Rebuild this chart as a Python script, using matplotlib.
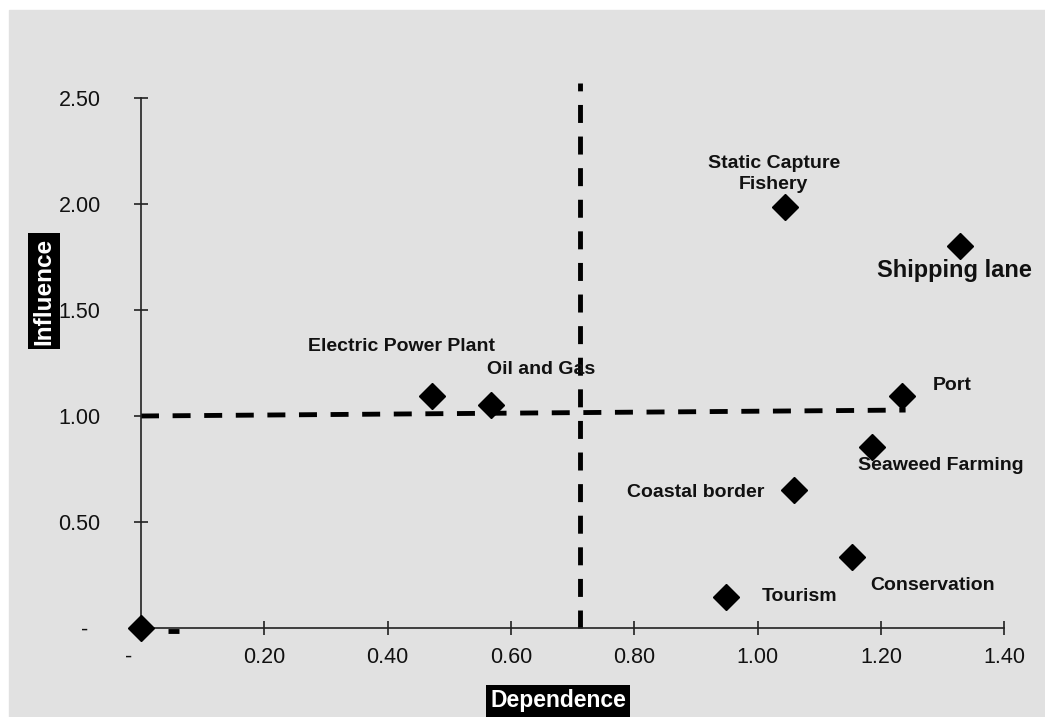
import matplotlib.pyplot as plt
from matplotlib.patches import Rectangle

plt.rcParams['font.family'] = ['Liberation Sans', 'DejaVu Sans']

# data
names = ['', 'Electric Power Plant', 'Oil and Gas', 'Static Capture\nFishery',
         'Shipping lane', 'Port', 'Seaweed Farming', 'Coastal border',
         'Conservation', 'Tourism']
dependence = [0.0, 0.472, 0.568, 1.044, 1.328, 1.234, 1.186, 1.059, 1.153, 0.949]
influence = [0.0, 1.094, 1.052, 1.986, 1.80, 1.094, 0.854, 0.651, 0.335, 0.146]

x_ticks = [0.0, 0.2, 0.4, 0.6, 0.8, 1.0, 1.2, 1.4]
x_tick_labels = ['-    ', '0.20', '0.40', '0.60', '0.80', '1.00', '1.20', '1.40']
y_ticks = [0.0, 0.5, 1.0, 1.5, 2.0, 2.5]
y_tick_labels = ['-  ', '0.50', '1.00', '1.50', '2.00', '2.50']

# threshold lines
vline_x = [0.712, 0.712]
vline_y = [0.0, 2.57]
hline_x = [0.0, 1.24]
hline_y = [1.0, 1.028]
stub_x = [0.044, 0.062]
stub_y = [-0.012, -0.012]

# label offsets in pixels from each marker (layout only)
offsets = [(0, 0), (-31, 50), (50, 35), (-11, 33), (-5, -24), (50, 11),
           (69, -19), (-98, -3), (81, -29), (73, 1)]
label_sizes = [14, 14, 14, 14, 17, 14, 14, 14, 14, 14]

W, H = 1045, 717
fig = plt.figure(figsize=(W / 100, H / 100), dpi=100, facecolor='white')
fig.patches.append(Rectangle((9 / W, 0), 1 - 9 / W, 1 - 10 / H,
                             transform=fig.transFigure, color='#e1e1e1',
                             zorder=-10))

# axes placed so that x=0 -> 141px, 1.4 -> 1004px; y=0 -> 628px, 2.5 -> 98px
xlim = (-0.05, 1.45)
ylim = (-0.1, 2.65)
px_x = 616.6
px_y = 212.0
left = 141 + xlim[0] * px_x
right = 141 + xlim[1] * px_x
bottom = 628 - ylim[0] * px_y
top = 628 - ylim[1] * px_y
ax = fig.add_axes([left / W, 1 - bottom / H, (right - left) / W, (bottom - top) / H])
ax.set_facecolor('none')
ax.set_xlim(xlim)
ax.set_ylim(ylim)

for s in ['top', 'right']:
    ax.spines[s].set_visible(False)
ax.spines['left'].set_position(('data', 0))
ax.spines['bottom'].set_position(('data', 0))
ax.spines['left'].set_bounds(0, 2.5)
ax.spines['bottom'].set_bounds(0, 1.4)
for s in ['left', 'bottom']:
    ax.spines[s].set_linewidth(1.2)
    ax.spines[s].set_color('#222222')

ax.set_xticks(x_ticks)
ax.set_xticklabels(x_tick_labels)
ax.set_yticks(y_ticks)
ax.set_yticklabels(y_tick_labels)
ax.tick_params(axis='both', direction='inout', length=10, width=1.2,
               color='#222222', labelsize=15.5, labelcolor='#111111')
ax.tick_params(axis='y', pad=24)
ax.tick_params(axis='x', pad=9)

ax.plot(vline_x, vline_y, color='black', lw=3.5, ls=(0, (3.7, 2.8)), zorder=2)
ax.plot(hline_x, hline_y, color='black', lw=3.5, ls=(0, (3.7, 2.8)), zorder=2)
ax.plot(stub_x, stub_y, color='black', lw=3.5, solid_capstyle='butt', zorder=2)

ax.plot(dependence, influence, ls='none', marker='D', ms=13, color='black',
        clip_on=False, zorder=3)

for name, x, y, off, fs in zip(names, dependence, influence, offsets, label_sizes):
    if not name:
        continue
    ax.annotate(name, (x, y), xytext=off, textcoords='offset pixels',
                ha='center', va='center', fontsize=fs, fontweight='bold',
                color='#111111', linespacing=1.35, zorder=4)

fig.text(558 / W, 1 - 701 / H, 'Dependence', ha='center', va='center',
         fontsize=16.5, fontweight='bold', color='white',
         bbox=dict(facecolor='black', edgecolor='none', pad=3))
fig.text(44 / W, 1 - 291 / H, 'Influence', ha='center', va='center',
         rotation=90, fontsize=17.5, fontweight='bold', color='white',
         bbox=dict(facecolor='black', edgecolor='none', pad=3))

fig.savefig('out.png', dpi=100, facecolor='white')
